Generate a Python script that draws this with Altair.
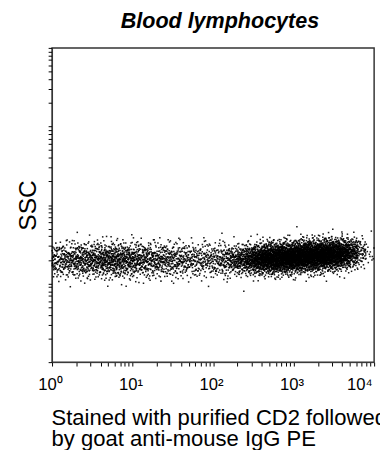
import math
import altair as alt
import pandas as pd

# ---- values ----
# x bins (log10 of fluorescence, 0.1 decade wide): lower edges
bin_lo = [round(0.1 * i, 1) for i in range(40)]
# events per bin (estimated density of the dot cloud)
bin_count = [70, 80, 90, 100, 105, 115, 125, 130, 125, 115,
             105, 95, 90, 85, 80, 75, 68, 62, 60, 60,
             65, 80, 100, 130, 180, 250, 320, 370, 390, 390,
             400, 410, 410, 400, 370, 320, 250, 150, 55, 12]
# centre of the band (log10 SSC) per bin
bin_ycen = [1.30] * 24 + [1.31, 1.31, 1.32, 1.32, 1.33, 1.33,
                          1.34, 1.35, 1.35, 1.36, 1.37, 1.37, 1.38, 1.39, 1.40, 1.40]
# spread of the band (log10 SSC) per bin
bin_ysd = [0.11] * 22 + [0.095] * 18

tick_values = [m * 10 ** e for e in range(4) for m in range(1, 10)] + [10000]
title_text = "Blood lymphocytes"
y_title = "SSC"
x_title = ["Stained with purified CD2 followed", "by goat anti-mouse IgG PE"]


def halton(i, b):
    f, r = 1.0, 0.0
    while i > 0:
        f /= b
        r += f * (i % b)
        i //= b
    return r


xs, ys = [], []
idx = 1
for lo, n, yc, sd in zip(bin_lo, bin_count, bin_ycen, bin_ysd):
    for _ in range(n):
        u = halton(idx, 2)
        v1 = max(halton(idx, 3), 1e-4)
        v2 = halton(idx, 5)
        z = math.sqrt(-2 * math.log(v1)) * math.cos(2 * math.pi * v2)
        xs.append(10 ** (lo + 0.1 * u))
        ys.append(10 ** (yc + sd * z))
        idx += 1

df = pd.DataFrame({"fl": xs, "ssc": ys})

FONT = "Liberation Sans"

label_expr = (
    "abs(log(datum.value)/LN10 - round(log(datum.value)/LN10)) < 0.001 ? "
    "'10' + ['\u2070','\u00b9','\u00b2','\u00b3','\u2074'][round(log(datum.value)/LN10)] : ''"
)

chart = alt.Chart(df).mark_point(
    filled=True, shape="square", size=2.4, color="black", opacity=0.9, strokeWidth=0
).encode(
    x=alt.X("fl:Q", scale=alt.Scale(type="log", domain=[1, 10000], nice=False),
            axis=alt.Axis(values=tick_values, labelExpr=label_expr, grid=False,
                          tickSize=4, tickColor="black", domainColor="#333",
                          labelFont=FONT, labelFontSize=17, labelColor="black",
                          labelPadding=11, labelOverlap=False, labelFlush=False,
                          labelAlign={"condition": {"test": "datum.value >= 9999", "value": "right"},
                                      "value": "center"},
                          labelOffset=-2,
                          title=x_title, titleFont=FONT, titleFontSize=22.5,
                          titleFontWeight="normal", titleColor="black",
                          titleAnchor="start", titleAlign="left", titleBaseline="alphabetic",
                          titleX=-1, titleY=64, titleLineHeight=21.5)),
    y=alt.Y("ssc:Q", scale=alt.Scale(type="log", domain=[1, 10000], nice=False),
            axis=alt.Axis(values=tick_values, labels=False, grid=False,
                          tickSize=4, tickColor="black", domainColor="#333",
                          title=y_title, titleFont=FONT, titleFontSize=25,
                          titleFontWeight="normal", titleColor="black",
                          titlePadding=7)),
).properties(
    width=329, height=321,
    title=alt.TitleParams(title_text, font=FONT, fontSize=22, fontWeight="bold",
                          fontStyle="italic", color="black", anchor="middle",
                          dx=7, offset=15),
    autosize=alt.AutoSizeParams(type="none"),
    padding={"left": 45, "top": 36, "right": 6, "bottom": 85},
).configure_view(stroke="#333", strokeWidth=1.5)

chart.save("out.html", embed_options={"renderer": "svg", "actions": False})
